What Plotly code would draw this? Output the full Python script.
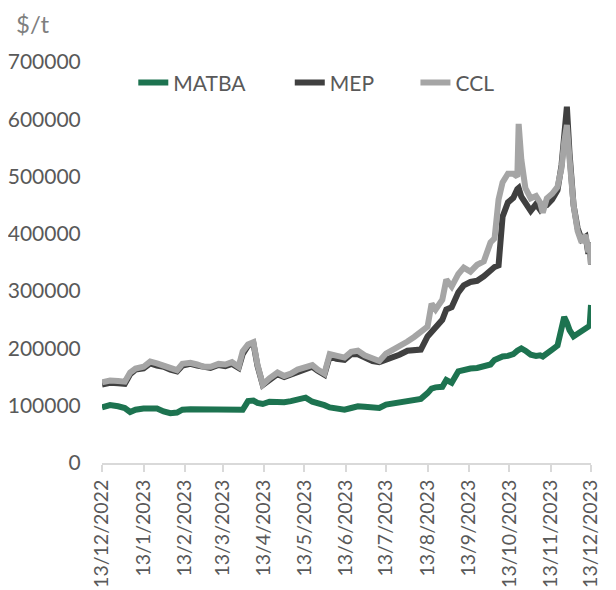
import plotly.graph_objects as go

dates = [
    "2022-12-13", "2022-12-19", "2022-12-25", "2022-12-30", "2023-01-03", "2023-01-07",
    "2023-01-13", "2023-01-18", "2023-01-23", "2023-01-28", "2023-02-02", "2023-02-07",
    "2023-02-11", "2023-02-17", "2023-02-22", "2023-02-27", "2023-03-04", "2023-03-10",
    "2023-03-15", "2023-03-20", "2023-03-25", "2023-03-28", "2023-04-01", "2023-04-05",
    "2023-04-08", "2023-04-12", "2023-04-17", "2023-04-23", "2023-04-28", "2023-05-03",
    "2023-05-08", "2023-05-14", "2023-05-19", "2023-05-23", "2023-05-28", "2023-06-01",
    "2023-06-06", "2023-06-12", "2023-06-17", "2023-06-22", "2023-06-27", "2023-07-03",
    "2023-07-08", "2023-07-13", "2023-07-18", "2023-07-23", "2023-07-29", "2023-08-03",
    "2023-08-08", "2023-08-13", "2023-08-16", "2023-08-19", "2023-08-24", "2023-08-27",
    "2023-08-31", "2023-09-05", "2023-09-09", "2023-09-14", "2023-09-19", "2023-09-24",
    "2023-09-29", "2023-10-02", "2023-10-05", "2023-10-08", "2023-10-12", "2023-10-16",
    "2023-10-19", "2023-10-20", "2023-10-22", "2023-10-25", "2023-10-29", "2023-11-02",
    "2023-11-05", "2023-11-07", "2023-11-10", "2023-11-14", "2023-11-18", "2023-11-21",
    "2023-11-23", "2023-11-25", "2023-11-27", "2023-11-30", "2023-12-03", "2023-12-06",
    "2023-12-09", "2023-12-11", "2023-12-12", "2023-12-13",
]

matba = [
    97000, 101000, 99000, 96000, 89000, 93000,
    95000, 95000, 95000, 90000, 87000, 88000,
    93000, 94000, 94000, 93000, 94000, 93000,
    93000, 92000, 92000, 93000, 108000, 109000,
    105000, 103000, 107000, 106000, 106000, 108000,
    111000, 114000, 107000, 105000, 101000, 97000,
    95000, 93000, 96000, 99000, 98000, 97000,
    96000, 102000, 104000, 106000, 108000, 110000,
    112000, 122000, 130000, 132000, 133000, 145000,
    140000, 160000, 163000, 165000, 166000, 168000,
    172000, 180000, 183000, 186000, 187000, 190000,
    196000, 198000, 200000, 196000, 189000, 187000,
    188000, 186000, 190000, 198000, 205000, 235000,
    255000, 245000, 232000, 221000, 225000, 230000,
    235000, 238000, 240000, 276000,
]

mep = [
    137000, 140000, 139000, 138000, 155000, 163000,
    165000, 174000, 170000, 168000, 163000, 160000,
    170000, 173000, 170000, 167000, 166000, 171000,
    169000, 173000, 166000, 190000, 205000, 209000,
    170000, 136000, 145000, 155000, 150000, 154000,
    160000, 163000, 168000, 161000, 154000, 186000,
    182000, 180000, 190000, 190000, 184000, 178000,
    176000, 180000, 184000, 189000, 196000, 196000,
    198000, 221000, 229000, 238000, 250000, 268000,
    272000, 298000, 310000, 316000, 318000, 326000,
    338000, 342000, 345000, 430000, 455000, 463000,
    478000, 480000, 465000, 455000, 440000, 452000,
    442000, 448000, 450000, 460000, 476000, 520000,
    590000, 622000, 540000, 450000, 410000, 390000,
    395000, 365000, 385000, 346000,
]

ccl = [
    141000, 144000, 143000, 142000, 158000, 165000,
    168000, 177000, 174000, 170000, 166000, 162000,
    173000, 175000, 172000, 168000, 168000, 173000,
    172000, 176000, 168000, 195000, 207000, 211000,
    172000, 137000, 148000, 158000, 152000, 156000,
    163000, 166000, 171000, 163000, 156000, 190000,
    188000, 184000, 194000, 196000, 188000, 182000,
    178000, 191000, 197000, 204000, 212000, 220000,
    229000, 238000, 278000, 268000, 285000, 320000,
    308000, 330000, 341000, 334000, 346000, 352000,
    385000, 392000, 460000, 490000, 505000, 505000,
    500000, 592000, 530000, 480000, 462000, 466000,
    455000, 437000, 462000, 470000, 482000, 515000,
    560000, 590000, 530000, 450000, 405000, 385000,
    398000, 368000, 385000, 346000,
]

series_names = ["MATBA", "MEP", "CCL"]
series_colors = ["#1d7350", "#404040", "#a5a5a5"]
x_range = ["2022-12-13", "2023-12-13"]
y_ticks = [0, 100000, 200000, 300000, 400000, 500000, 600000, 700000]

FONT = "Lato"
TXT = "#595959"

legend_ids = ["legend", "legend2", "legend3"]
legend_x = [0.064, 0.384, 0.641]

fig = go.Figure()
for name, vals, col, lid in zip(series_names, [matba, mep, ccl], series_colors, legend_ids):
    fig.add_trace(go.Scatter(
        x=dates, y=vals, name=name, mode="lines",
        line=dict(color=col, width=6), legend=lid,
    ))

legend_common = dict(
    orientation="h", y=0.948, xanchor="left", yanchor="middle",
    font=dict(family=FONT, size=21, color=TXT),
    bgcolor="rgba(0,0,0,0)",
)

fig.update_layout(
    width=608, height=582,
    margin=dict(l=94, r=25, t=54, b=127, autoexpand=False),
    paper_bgcolor="white", plot_bgcolor="white",
    font=dict(family=FONT, size=21, color=TXT),
    showlegend=True,
    legend=dict(x=legend_x[0], **legend_common),
    legend2=dict(x=legend_x[1], **legend_common),
    legend3=dict(x=legend_x[2], **legend_common),
    xaxis=dict(
        type="date", range=x_range, automargin=False,
        tick0="2022-12-13", dtick="M1", tickformat="%-d/%-m/%Y",
        tickangle=-90, showgrid=False, zeroline=False,
        showline=True, linecolor="#d9d9d9", linewidth=2,
        ticks="outside", ticklen=7, tickcolor="#d9d9d9", tickwidth=2,
        tickfont=dict(family=FONT, size=19.5, color=TXT),
    ),
    yaxis=dict(
        range=[0, 700000], tickvals=y_ticks, automargin=False,
        tickformat="d", showgrid=False, zeroline=False, showline=False,
        ticks="outside", ticklen=16, tickcolor="rgba(0,0,0,0)",
        tickfont=dict(family=FONT, size=21, color=TXT),
    ),
    annotations=[dict(
        text="$/t", xref="paper", yref="paper", x=-0.18, y=1.097,
        xanchor="left", yanchor="middle", showarrow=False,
        font=dict(family=FONT, size=24, color="#7f7f7f"),
    )],
)

fig.write_html("out.html")
